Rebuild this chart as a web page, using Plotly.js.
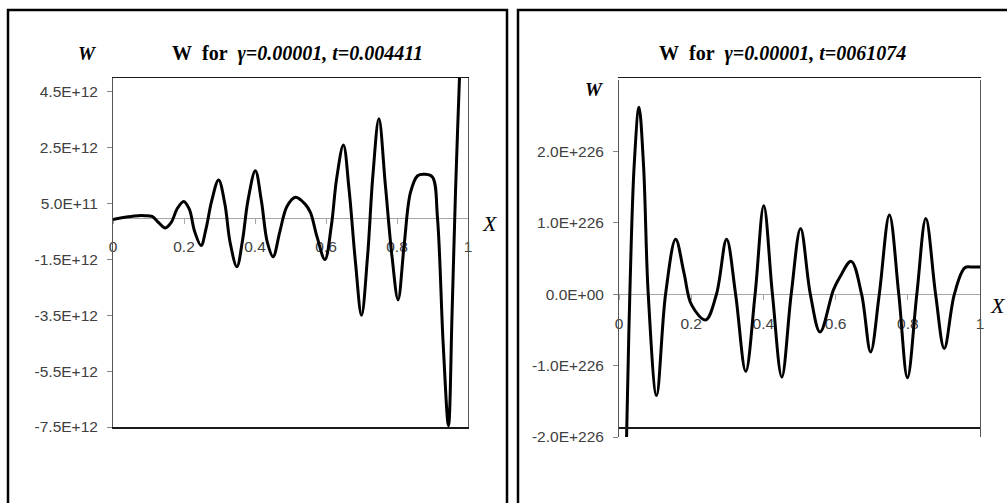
<!DOCTYPE html>
<html>
<head>
<meta charset="utf-8">
<script src="https://cdn.plot.ly/plotly-3.0.1.min.js"></script>
<style>html,body{margin:0;padding:0;background:#fff;}#chart{width:1007px;height:503px;}</style>
</head>
<body>
<div id="chart"></div>
<script>
// Left panel: W (units of 1E+12) vs X, t=0.004411
var leftX = [0, 0.03, 0.06, 0.09, 0.11, 0.13, 0.147, 0.165, 0.18, 0.199, 0.215, 0.23, 0.248, 0.262, 0.278, 0.2975, 0.315, 0.33, 0.349, 0.365, 0.38, 0.401, 0.418, 0.435, 0.451, 0.47, 0.49, 0.514, 0.54, 0.556, 0.575, 0.597, 0.615, 0.63, 0.649, 0.665, 0.683, 0.70, 0.717, 0.732, 0.749, 0.767, 0.786, 0.803, 0.82, 0.838, 0.858, 0.879, 0.9, 0.914, 0.93, 0.945, 0.955, 0.965, 0.976, 0.99, 1.0];
var leftW = [-0.07, 0.0, 0.06, 0.07, 0.04, -0.2, -0.37, -0.15, 0.3, 0.58, 0.3, -0.5, -1.0, -0.4, 0.6, 1.35, 0.5, -0.9, -1.76, -0.8, 0.6, 1.68, 0.6, -0.9, -1.4, -0.5, 0.4, 0.73, 0.5, 0.19, -0.7, -1.5, -0.3, 1.4, 2.6, 1.0, -1.6, -3.5, -1.4, 1.5, 3.54, 1.2, -1.4, -2.94, -1.0, 0.9, 1.5, 1.55, 1.45, 0.0, -4.5, -7.45, -3.5, 1.0, 5.0, 10, 14];

// Right panel: W (units of 1E+226) vs X, t=0061074
var rightX = [0, 0.021, 0.03, 0.042, 0.0554, 0.068, 0.081, 0.104, 0.129, 0.157, 0.18, 0.201, 0.240, 0.27, 0.298, 0.323, 0.351, 0.377, 0.401, 0.425, 0.451, 0.477, 0.503, 0.53, 0.557, 0.594, 0.612, 0.643, 0.672, 0.697, 0.721, 0.749, 0.775, 0.799, 0.825, 0.850, 0.877, 0.901, 0.929, 0.958, 0.98, 1.0];
var rightW = [-6.5, -2.0, 0.0, 1.8, 2.62, 1.8, 0.0, -1.42, 0.0, 0.77, 0.3, -0.15, -0.36, 0.0, 0.77, 0.0, -1.08, 0.0, 1.24, 0.0, -1.16, 0.0, 0.92, 0.0, -0.53, 0.06, 0.24, 0.46, 0.0, -0.81, 0.0, 1.11, 0.0, -1.17, 0.0, 1.06, 0.0, -0.76, 0.0, 0.37, 0.38, 0.38];

var xTickVals = [0, 0.2, 0.4, 0.6, 0.8, 1];
var xTickText = ['0', '0.2', '0.4', '0.6', '0.8', '1'];
var leftYTickVals = [-7.5, -5.5, -3.5, -1.5, 0.5, 2.5, 4.5];
var leftYTickText = ['-7.5E+12', '-5.5E+12', '-3.5E+12', '-1.5E+12', '5.0E+11', '2.5E+12', '4.5E+12'];
var rightYTickVals = [-2, -1, 0, 1, 2];
var rightYTickText = ['-2.0E+226', '-1.0E+226', '0.0E+00', '1.0E+226', '2.0E+226'];

var leftTitle = '<b>W\u00a0\u00a0for\u00a0\u00a0<i>\u03b3=0.00001,\u00a0t=0.004411</i></b>';
var rightTitle = '<b>W\u00a0\u00a0for\u00a0\u00a0<i>\u03b3=0.00001,\u00a0t=0061074</i></b>';

var W = 1007, H = 503;
var leftYRange = [-7.5, 5.0], rightYRange = [-2, 3];
var leftXDom = [113 / W, 468 / W], leftYDom = [(H - 427) / H, (H - 78) / H];
var rightXDom = [619 / W, 980 / W], rightYDom = [(H - 437) / H, (H - 80) / H];
function zeroPos(dom, r) { return dom[0] + (0 - r[0]) / (r[1] - r[0]) * (dom[1] - dom[0]); }

var tickFont = {family: '"Liberation Sans", Arial, sans-serif', size: 15.5, color: '#404040'};
var serif = '"Liberation Serif", "Times New Roman", serif';

function boxX(dom) {
  return {domain: dom, range: [0, 1], showgrid: false, zeroline: false, showticklabels: false, ticks: '',
    showline: true, mirror: true, linecolor: '#1a1a1a', linewidth: 1.5, fixedrange: true};
}
function boxY(dom, r, tv, tt, anchor) {
  return {domain: dom, range: r, anchor: anchor, showgrid: false, zeroline: false, showline: true, mirror: true,
    linecolor: '#555', linewidth: 1, ticks: 'outside', ticklen: 5, tickcolor: '#888', tickwidth: 1,
    tickvals: tv, ticktext: tt, tickfont: tickFont, ticklabelstandoff: 6, fixedrange: true};
}
function zeroX(over, pos) {
  return {overlaying: over, anchor: 'free', position: pos, range: [0, 1], showgrid: false, zeroline: false,
    showline: true, linecolor: '#a6a6a6', linewidth: 1, ticks: 'outside', ticklen: 5, tickcolor: '#a6a6a6',
    tickvals: xTickVals, ticktext: xTickText, tickfont: tickFont, ticklabelstandoff: 10, layer: 'below traces', fixedrange: true};
}

var traces = [
  {x: [0, 1], y: [0, 0], xaxis: 'x3', yaxis: 'y', type: 'scatter', mode: 'lines',
   line: {color: 'rgba(0,0,0,0)', width: 0}, hoverinfo: 'skip', showlegend: false},
  {x: [0, 1], y: [0, 0], xaxis: 'x4', yaxis: 'y2', type: 'scatter', mode: 'lines',
   line: {color: 'rgba(0,0,0,0)', width: 0}, hoverinfo: 'skip', showlegend: false},
  {x: leftX, y: leftW, xaxis: 'x', yaxis: 'y', type: 'scatter', mode: 'lines',
   line: {color: '#000', width: 3, shape: 'spline', smoothing: 1}, hoverinfo: 'skip', showlegend: false, cliponaxis: true},
  {x: rightX, y: rightW, xaxis: 'x2', yaxis: 'y2', type: 'scatter', mode: 'lines',
   line: {color: '#000', width: 3, shape: 'spline', smoothing: 1}, hoverinfo: 'skip', showlegend: false, cliponaxis: true}
];

var layout = {
  width: W, height: H, margin: {l: 0, r: 0, t: 0, b: 0}, paper_bgcolor: '#fff', plot_bgcolor: 'rgba(0,0,0,0)', showlegend: false,
  xaxis: boxX(leftXDom),
  yaxis: boxY(leftYDom, leftYRange, leftYTickVals, leftYTickText, 'x'),
  xaxis2: boxX(rightXDom),
  yaxis2: boxY(rightYDom, rightYRange, rightYTickVals, rightYTickText, 'x2'),
  xaxis3: zeroX('x', zeroPos(leftYDom, leftYRange)),
  xaxis4: zeroX('x2', zeroPos(rightYDom, rightYRange)),
  shapes: [
    {type: 'rect', xref: 'paper', yref: 'paper', x0: 8 / W, x1: 507 / W, y0: -0.1, y1: (H - 10) / H, line: {color: '#000', width: 2.5}},
    {type: 'rect', xref: 'paper', yref: 'paper', x0: 518 / W, x1: 1.1, y0: -0.1, y1: (H - 10) / H, line: {color: '#000', width: 2.5}}
  ],
  annotations: [
    {text: leftTitle, xref: 'paper', yref: 'paper', x: 297 / W, y: (H - 53) / H, showarrow: false, xanchor: 'center', yanchor: 'middle', font: {family: serif, size: 20, color: '#000'}},
    {text: rightTitle, xref: 'paper', yref: 'paper', x: 782 / W, y: (H - 53) / H, showarrow: false, xanchor: 'center', yanchor: 'middle', font: {family: serif, size: 20, color: '#000'}},
    {text: '<b><i>W</i></b>', xref: 'paper', yref: 'paper', x: 87 / W, y: (H - 53) / H, showarrow: false, xanchor: 'center', yanchor: 'middle', font: {family: serif, size: 19, color: '#000'}},
    {text: '<b><i>W</i></b>', xref: 'paper', yref: 'paper', x: 594 / W, y: (H - 90) / H, showarrow: false, xanchor: 'center', yanchor: 'middle', font: {family: serif, size: 19, color: '#000'}},
    {text: '<i>X</i>', xref: 'paper', yref: 'paper', x: 490 / W, y: (H - 223) / H, showarrow: false, xanchor: 'center', yanchor: 'middle', font: {family: serif, size: 22, color: '#000'}},
    {text: '<i>X</i>', xref: 'paper', yref: 'paper', x: 998 / W, y: (H - 305) / H, showarrow: false, xanchor: 'center', yanchor: 'middle', font: {family: serif, size: 22, color: '#000'}}
  ]
};

Plotly.newPlot('chart', traces, layout, {displayModeBar: false, staticPlot: true});
</script>
</body>
</html>
